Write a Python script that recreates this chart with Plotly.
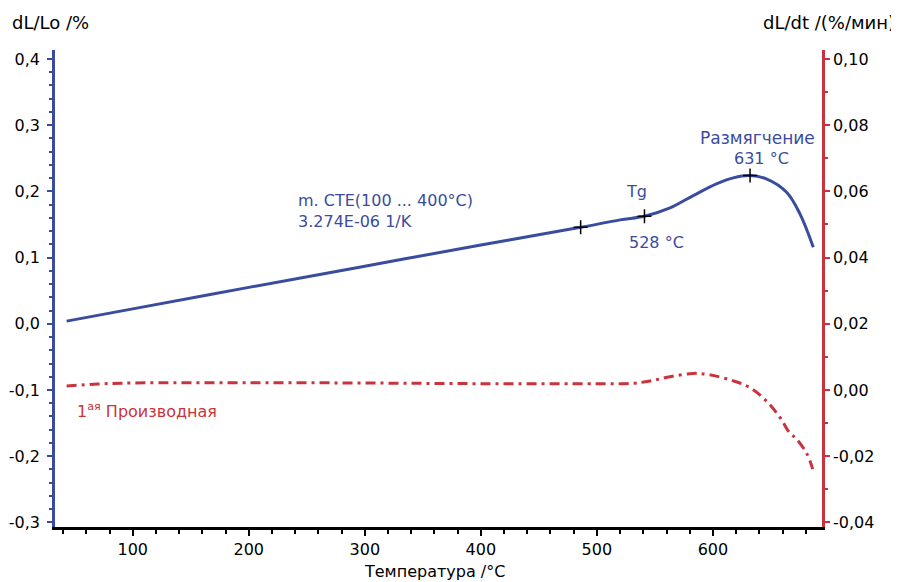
import plotly.graph_objects as go

# Blue curve: dL/Lo (%) vs temperature
temp_dl = [43, 100, 200, 300, 400, 486, 520, 541, 563, 583, 603, 617.5, 632, 646, 663.5, 675, 686.5]
dl_lo = [0.004, 0.0225, 0.055, 0.087, 0.119, 0.1457, 0.157, 0.1624, 0.175, 0.1936, 0.2113, 0.2204, 0.2239, 0.2189, 0.1987, 0.166, 0.1155]

# Markers on blue curve
mark_t = [486, 541, 632]
mark_v = [0.1457, 0.1624, 0.2239]

# Red curve: dL/dt (%/min)
temp_dt = [43, 70, 100, 200, 300, 400, 500, 530, 546, 563, 583, 597, 617, 632, 646, 658, 666, 672, 681, 686]
dl_dt = [0.0012, 0.0018, 0.0021, 0.0022, 0.0021, 0.0019, 0.0019, 0.0020, 0.0027, 0.0040, 0.0050, 0.0046,
         0.0028, 0.0007, -0.0033, -0.0084, -0.0129, -0.0148, -0.0193, -0.0239]

x_ticks = [100, 200, 300, 400, 500, 600]
left_ticks = [-0.3, -0.2, -0.1, 0.0, 0.1, 0.2, 0.3, 0.4]
left_labels = ["-0,3", "-0,2", "-0,1", "0,0", "0,1", "0,2", "0,3", "0,4"]
right_ticks = [-0.04, -0.02, 0.0, 0.02, 0.04, 0.06, 0.08, 0.10]
right_labels = ["-0,04", "-0,02", "0,00", "0,02", "0,04", "0,06", "0,08", "0,10"]

BLUE = "#3a4c9e"
RED = "#c9333c"
FONT = "DejaVu Sans"

fig = go.Figure()
fig.add_trace(go.Scatter(x=temp_dl, y=dl_lo, mode="lines", line=dict(color=BLUE, width=3, shape="spline"),
                         yaxis="y", showlegend=False))
fig.add_trace(go.Scatter(x=mark_t, y=mark_v, mode="markers",
                         marker=dict(symbol="cross-thin", size=10, line=dict(color="black", width=1.5)),
                         yaxis="y", showlegend=False))
fig.add_trace(go.Scatter(x=temp_dt, y=dl_dt, mode="lines",
                         line=dict(color=RED, width=3, shape="spline", dash="10px,5px,3px,5px"),
                         yaxis="y2", showlegend=False))

fig.update_layout(
    width=891, height=574,
    margin=dict(l=47, r=77, t=42, b=55),
    plot_bgcolor="white", paper_bgcolor="white",
    font=dict(family=FONT, size=16, color="black"),
    xaxis=dict(range=[33, 694], tickvals=x_ticks, showgrid=False, zeroline=False, automargin=False,
               showline=True, linecolor="black", linewidth=2.5,
               ticks="outside", ticklen=6, tickwidth=2, tickcolor="black",
               minor=dict(dtick=20, ticks="outside", ticklen=4, tickwidth=2, tickcolor="black"),
               tickfont=dict(size=16)),
    yaxis=dict(range=[-0.307, 0.4136], tickvals=left_ticks, ticktext=left_labels, automargin=False,
               showgrid=False, zeroline=False, showline=True, linecolor=BLUE, linewidth=2.5,
               ticks="outside", ticklen=5, tickwidth=2, tickcolor=BLUE, ticklabelstandoff=4,
               minor=dict(dtick=0.02, ticks="outside", ticklen=3, tickwidth=2, tickcolor=BLUE),
               tickfont=dict(size=16)),
    yaxis2=dict(range=[-0.0414, 0.1027], tickvals=right_ticks, ticktext=right_labels, automargin=False,
                overlaying="y", side="right",
                showgrid=False, zeroline=False, showline=True, linecolor=RED, linewidth=2.5,
                ticks="outside", ticklen=5, tickwidth=2, tickcolor=RED,
                minor=dict(dtick=0.01, ticks="outside", ticklen=3, tickwidth=2, tickcolor=RED),
                tickfont=dict(size=16)),
)

ann = [
    dict(text="dL/Lo /%", xref="paper", yref="paper", x=-0.0587, y=1.0587, xanchor="left", yanchor="middle",
         font=dict(size=18, color="black")),
    dict(text="dL/dt /(%/мин)", xref="paper", yref="paper", x=1.0978, y=1.0587, xanchor="right", yanchor="middle",
         font=dict(size=18, color="black")),
    dict(text="Температура /°C", xref="paper", yref="paper", x=0.4954, y=-0.0943, xanchor="center", yanchor="middle",
         font=dict(size=16, color="black")),
    dict(text="m. CTE(100 ... 400°C)", xref="x", yref="y", x=240.5, y=0.186, xanchor="left", yanchor="middle",
         font=dict(size=16, color=BLUE)),
    dict(text="3.274E-06 1/K", xref="x", yref="y", x=240.5, y=0.154, xanchor="left", yanchor="middle",
         font=dict(size=16, color=BLUE)),
    dict(text="Tg", xref="x", yref="y", x=534.5, y=0.2, xanchor="center", yanchor="middle",
         font=dict(size=16, color=BLUE)),
    dict(text="528 °C", xref="x", yref="y", x=551, y=0.1225, xanchor="center", yanchor="middle",
         font=dict(size=16, color=BLUE)),
    dict(text="Размягчение", xref="x", yref="y", x=638, y=0.281, xanchor="center", yanchor="middle",
         font=dict(size=17, color=BLUE)),
    dict(text="631 °C", xref="x", yref="y", x=642, y=0.2496, xanchor="center", yanchor="middle",
         font=dict(size=16, color=BLUE)),
    dict(text="1<sup>ая</sup> Производная", xref="x", yref="y", x=50, y=-0.1316, xanchor="left", yanchor="middle",
         font=dict(size=16, color=RED)),
]
for a in ann:
    a["showarrow"] = False
fig.update_layout(annotations=ann)

fig.write_html("out.html")
